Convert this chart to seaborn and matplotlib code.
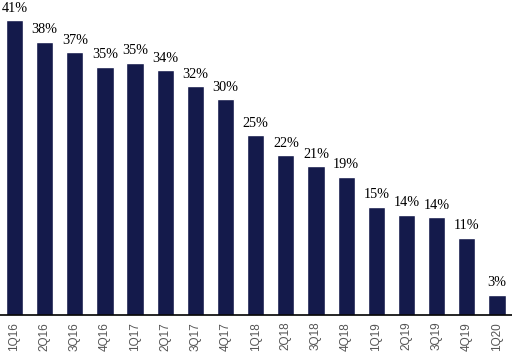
import pandas as pd
import numpy as np
import matplotlib.pyplot as plt
import seaborn as sns

quarters = ['1Q16', '2Q16', '3Q16', '4Q16', '1Q17', '2Q17', '3Q17', '4Q17',
            '1Q18', '2Q18', '3Q18', '4Q18', '1Q19', '2Q19', '3Q19', '4Q19', '1Q20']
values = [41.0, 38.0, 36.5, 34.5, 35.1, 34.0, 31.8, 30.0,
          25.0, 22.2, 20.7, 19.2, 15.0, 13.9, 13.6, 10.7, 2.8]
labels = ['41%', '38%', '37%', '35%', '35%', '34%', '32%', '30%',
          '25%', '22%', '21%', '19%', '15%', '14%', '14%', '11%', '3%']

df = pd.DataFrame({'quarter': quarters, 'value': values})

sns.set_style('white')
fig = plt.figure(figsize=(5.12, 3.55), dpi=100)
ax = fig.add_axes([0, 0.113, 1, 0.887])

sns.barplot(data=df, x='quarter', y='value', color='#141a4b', width=0.57,
            saturation=1, ax=ax)

# etichette sopra le barre
for i, (v, lab) in enumerate(zip(values, labels)):
    ax.annotate(lab, (i, v), xytext=(0, 4), textcoords='offset points',
                ha='center', va='bottom', fontsize=10.2,
                family='Liberation Serif', color='black',
                annotation_clip=False)

ax.set_xlim(-0.48, 16.5)
ax.set_ylim(0, 43.8)
ax.set_xlabel('')
ax.set_ylabel('')
ax.set_yticks([])
for s in ['top', 'right', 'left']:
    ax.spines[s].set_visible(False)
ax.spines['bottom'].set_color('black')
ax.spines['bottom'].set_linewidth(1.2)
ax.tick_params(axis='x', length=0, pad=5)
for t in ax.get_xticklabels():
    t.set_rotation(90)
    t.set_fontfamily('Liberation Sans')
    t.set_fontsize(8.5)
    t.set_color('#555555')

fig.savefig('out.png', dpi=100)
